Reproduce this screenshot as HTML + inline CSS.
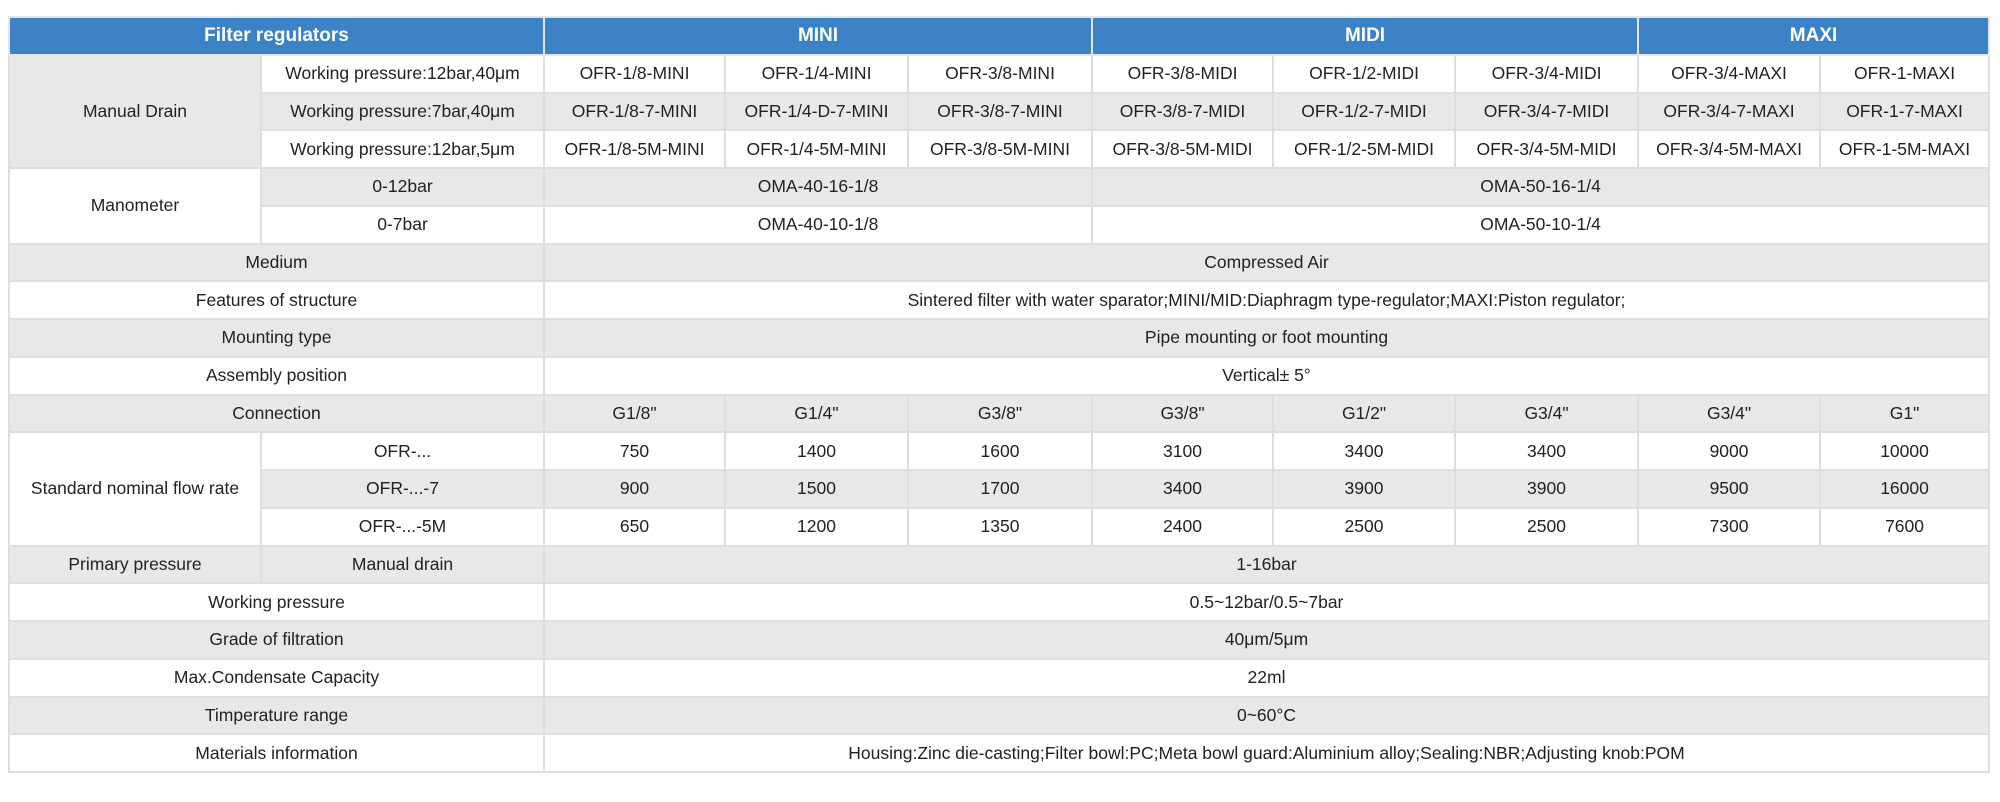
<!DOCTYPE html>
<html><head><meta charset="utf-8"><style>
html,body{margin:0;padding:0;background:#fff;width:2000px;height:802px;overflow:hidden}
table{position:absolute;left:8px;top:16px;width:1980px;border-collapse:collapse;table-layout:fixed;font-family:"Liberation Sans","DejaVu Sans",sans-serif;font-size:17.5px;color:#222}
td{border:2px solid #dedede;text-align:center;height:35.75px;padding:0;white-space:nowrap;overflow:hidden;background:#fff}
tr.g td{background:#e8e8e8}
td.g{background:#e8e8e8!important}
td.w{background:#fff!important}
tr.h td{background:#3b82c6;color:#fff;font-weight:bold;font-size:19px;border-color:#dfe6ee}
</style></head><body>
<table>
<colgroup><col style="width:252px"><col style="width:283px"><col style="width:181px"><col style="width:183px"><col style="width:184px"><col style="width:181px"><col style="width:182px"><col style="width:183px"><col style="width:182px"><col style="width:169px"></colgroup>
<tr class="h"><td colspan="2">Filter regulators</td><td colspan="3">MINI</td><td colspan="3">MIDI</td><td colspan="2">MAXI</td></tr>
<tr><td rowspan="3" class="g">Manual Drain</td><td>Working pressure:12bar,40μm</td><td>OFR-1/8-MINI</td><td>OFR-1/4-MINI</td><td>OFR-3/8-MINI</td><td>OFR-3/8-MIDI</td><td>OFR-1/2-MIDI</td><td>OFR-3/4-MIDI</td><td>OFR-3/4-MAXI</td><td>OFR-1-MAXI</td></tr>
<tr class="g"><td>Working pressure:7bar,40μm</td><td>OFR-1/8-7-MINI</td><td>OFR-1/4-D-7-MINI</td><td>OFR-3/8-7-MINI</td><td>OFR-3/8-7-MIDI</td><td>OFR-1/2-7-MIDI</td><td>OFR-3/4-7-MIDI</td><td>OFR-3/4-7-MAXI</td><td>OFR-1-7-MAXI</td></tr>
<tr><td>Working pressure:12bar,5μm</td><td>OFR-1/8-5M-MINI</td><td>OFR-1/4-5M-MINI</td><td>OFR-3/8-5M-MINI</td><td>OFR-3/8-5M-MIDI</td><td>OFR-1/2-5M-MIDI</td><td>OFR-3/4-5M-MIDI</td><td>OFR-3/4-5M-MAXI</td><td>OFR-1-5M-MAXI</td></tr>
<tr class="g"><td rowspan="2" class="w">Manometer</td><td>0-12bar</td><td colspan="3">OMA-40-16-1/8</td><td colspan="5">OMA-50-16-1/4</td></tr>
<tr><td>0-7bar</td><td colspan="3">OMA-40-10-1/8</td><td colspan="5">OMA-50-10-1/4</td></tr>
<tr class="g"><td colspan="2">Medium</td><td colspan="8">Compressed Air</td></tr>
<tr><td colspan="2">Features of structure</td><td colspan="8">Sintered filter with water sparator;MINI/MID:Diaphragm type-regulator;MAXI:Piston regulator;</td></tr>
<tr class="g"><td colspan="2">Mounting type</td><td colspan="8">Pipe mounting or foot mounting</td></tr>
<tr><td colspan="2">Assembly position</td><td colspan="8">Vertical± 5°</td></tr>
<tr class="g"><td colspan="2">Connection</td><td>G1/8"</td><td>G1/4"</td><td>G3/8"</td><td>G3/8"</td><td>G1/2"</td><td>G3/4"</td><td>G3/4"</td><td>G1"</td></tr>
<tr><td rowspan="3" class="w">Standard nominal flow rate</td><td>OFR-...</td><td>750</td><td>1400</td><td>1600</td><td>3100</td><td>3400</td><td>3400</td><td>9000</td><td>10000</td></tr>
<tr class="g"><td>OFR-...-7</td><td>900</td><td>1500</td><td>1700</td><td>3400</td><td>3900</td><td>3900</td><td>9500</td><td>16000</td></tr>
<tr><td>OFR-...-5M</td><td>650</td><td>1200</td><td>1350</td><td>2400</td><td>2500</td><td>2500</td><td>7300</td><td>7600</td></tr>
<tr class="g"><td>Primary pressure</td><td>Manual drain</td><td colspan="8">1-16bar</td></tr>
<tr><td colspan="2">Working pressure</td><td colspan="8">0.5~12bar/0.5~7bar</td></tr>
<tr class="g"><td colspan="2">Grade of filtration</td><td colspan="8">40μm/5μm</td></tr>
<tr><td colspan="2">Max.Condensate Capacity</td><td colspan="8">22ml</td></tr>
<tr class="g"><td colspan="2">Timperature range</td><td colspan="8">0~60°C</td></tr>
<tr><td colspan="2">Materials information</td><td colspan="8">Housing:Zinc die-casting;Filter bowl:PC;Meta bowl guard:Aluminium alloy;Sealing:NBR;Adjusting knob:POM</td></tr>
</table>
</body></html>
